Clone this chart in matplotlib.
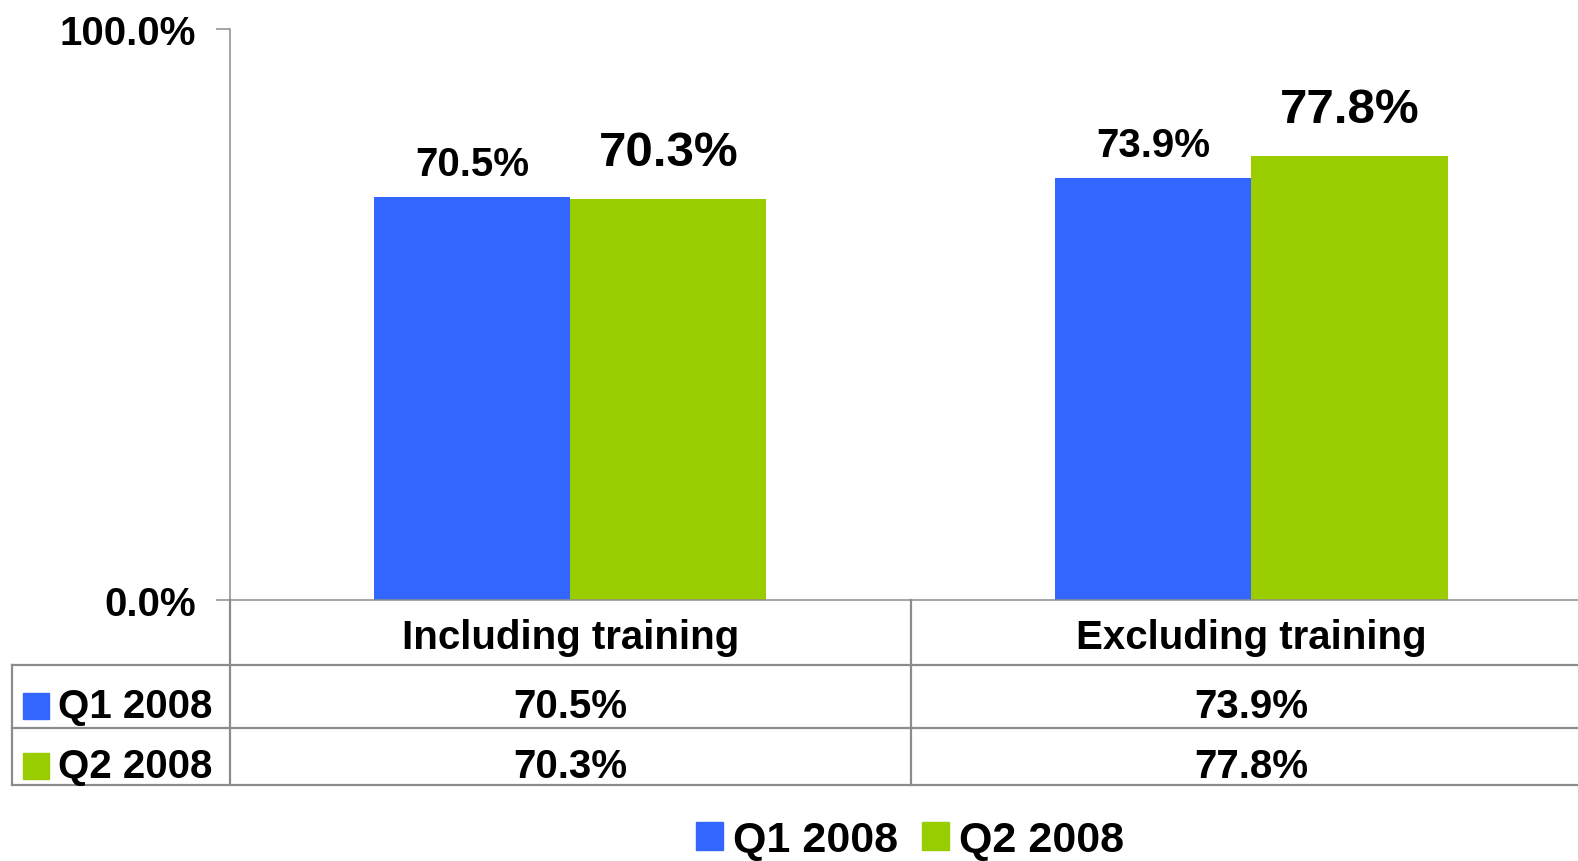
import matplotlib
matplotlib.use("Agg")
import matplotlib.pyplot as plt
from matplotlib.patches import Patch
from matplotlib.lines import Line2D
import matplotlib.transforms as mtrans

plt.rcParams['font.family'] = ['Liberation Sans', 'DejaVu Sans']
plt.rcParams['font.weight'] = 'bold'

categories = ["Including training", "Excluding training"]
series_names = ["Q1 2008", "Q2 2008"]
q1_values = [70.5, 73.9]
q2_values = [70.3, 77.8]
y_ticks = [0, 100]
y_tick_labels = ["0.0%", "100.0%"]

colors = ["#3366FF", "#9ACD00"]
grid_color = "#8c8c8c"

W, H = 1578, 862
fig = plt.figure(figsize=(W / 100, H / 100), dpi=100)

def fx(px):
    return px / W

def fy(py):
    return 1 - py / H

ax_left, ax_right, ax_top, ax_bottom = 229.5, 1592, 30, 601
ax = fig.add_axes([fx(ax_left), fy(ax_bottom), fx(ax_right - ax_left), (ax_bottom - ax_top) / H])

x = list(range(len(categories)))
bw = 0.288
series = [q1_values, q2_values]
offsets = [-bw / 2, bw / 2]
label_sizes = [29, 35.5]
label_offsets = [16, 24]
for vals, off, col, fs, lo in zip(series, offsets, colors, label_sizes, label_offsets):
    xs = [xi + off for xi in x]
    ax.bar(xs, vals, width=bw, color=col, linewidth=0, zorder=2)
    for xi, v in zip(xs, vals):
        ax.annotate(f"{v:.1f}%", (xi, v), xytext=(0, lo), textcoords="offset points",
                    ha="center", va="baseline", fontsize=fs, fontweight="bold")

ax.set_xlim(-0.5, 1.5)
ax.set_ylim(0, 100)
ax.set_yticks(y_ticks)
ax.set_yticklabels(y_tick_labels, fontsize=29, fontweight="bold")
ax.set_xticks([])
ax.tick_params(axis="y", direction="out", length=10, width=1.1, color=grid_color, pad=14)
for s in ["top", "right"]:
    ax.spines[s].set_visible(False)
for s in ["left", "bottom"]:
    ax.spines[s].set_color(grid_color)
    ax.spines[s].set_linewidth(1.1)

# data table lines (figure pixel layout)
lw = 1.6
def hline(y, x0, x1):
    fig.add_artist(Line2D([fx(x0), fx(x1)], [fy(y), fy(y)], color=grid_color, lw=lw))
def vline(xp, y0, y1):
    fig.add_artist(Line2D([fx(xp), fx(xp)], [fy(y0), fy(y1)], color=grid_color, lw=lw))

row_lines = [666, 729, 786]
for y in row_lines:
    hline(y, 12, W + 5)
vline(ax_left, ax_bottom, 786)
vline(12, 666, 786)
vline((ax_left + ax_right) / 2, ax_bottom, 786)

blend = mtrans.blended_transform_factory(ax.transData, fig.transFigure)

# category header
for xi, c in zip(x, categories):
    ax.text(xi, fy(649), c, transform=blend, ha="center", va="baseline",
            fontsize=29, fontweight="bold")

row_baselines = [718, 778]
for vals, name, col, yb in zip(series, series_names, colors, row_baselines):
    fig.add_artist(matplotlib.patches.Rectangle((fx(23), fy(yb + 2)), fx(26), 26 / H,
                                                 color=col, transform=fig.transFigure))
    fig.text(fx(58), fy(yb), name, ha="left", va="baseline", fontsize=29, fontweight="bold")
    for xi, v in zip(x, vals):
        ax.text(xi, fy(yb), f"{v:.1f}%", transform=blend, ha="center", va="baseline",
                fontsize=29, fontweight="bold")

handles = [Patch(color=c) for c in colors]
fig.legend(handles, series_names, loc="lower center", bbox_to_anchor=(fx(910), 0.001),
           ncol=2, frameon=False, prop={"size": 31, "weight": "bold"},
           handlelength=0.63, handleheight=0.63, handletextpad=0.23, columnspacing=0.56,
           borderpad=0, borderaxespad=0)

fig.savefig("out.png", dpi=100)
